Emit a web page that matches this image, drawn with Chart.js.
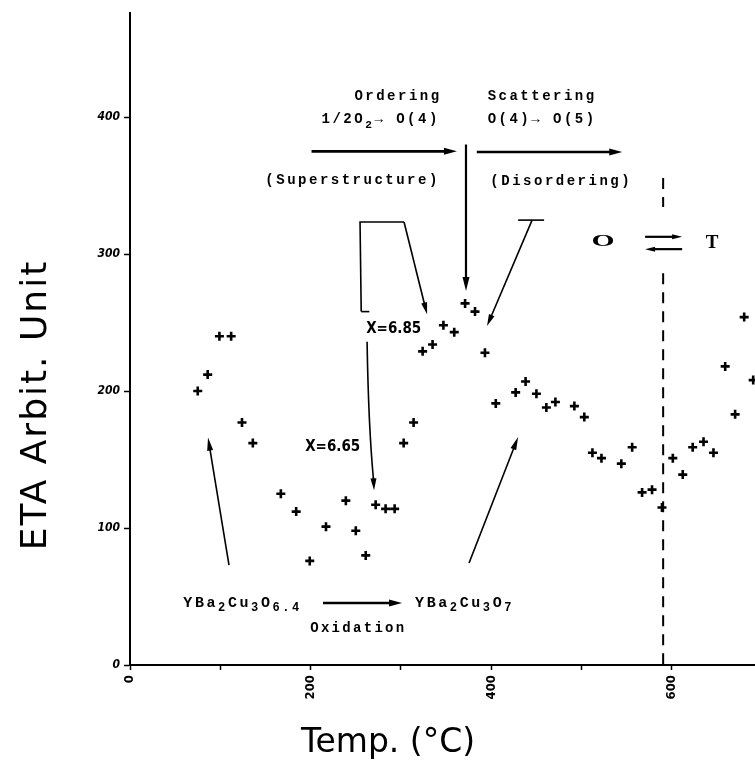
<!DOCTYPE html>
<html>
<head>
<meta charset="utf-8">
<script src="https://cdn.jsdelivr.net/npm/chart.js@4.4.1/dist/chart.umd.min.js"></script>
<style>
  html, body { margin: 0; padding: 0; background: #ffffff; }
  canvas { display: block; }
</style>
</head>
<body>
<canvas id="eta" width="755" height="772" style="width:755px;height:772px"></canvas>
<script>
// ETA vs temperature, YBa2Cu3O(7-x) oxidation run

const temps = [75, 86, 99, 112, 124, 136, 167, 184, 199, 217, 239, 250, 261, 272, 283, 293,
  303, 314, 324, 335, 347, 359, 371, 382, 393, 405, 427, 438, 450, 461, 471, 492, 503, 512,
  522, 544, 556, 567, 578, 589, 601, 612, 623, 635, 646, 659, 670, 680, 690];
const eta = [200, 212, 240, 240, 177, 162, 125, 112, 76, 101, 120, 98, 80, 117, 114, 114,
  162, 177, 229, 234, 248, 243, 264, 258, 228, 191, 199, 207, 198, 188, 192, 189, 181, 155,
  151, 147, 159, 126, 128, 115, 151, 139, 159, 163, 155, 218, 183, 254, 208];

const xTickValues = [0, 100, 200, 300, 400, 500, 600];
const xTickLabels = [0, 200, 400, 600];
const yTickValues = [0, 100, 200, 300, 400];

const MONO = '"Liberation Mono", "DejaVu Sans Mono", monospace';
const NARROW = '"Liberation Sans Narrow", "DejaVu Sans Condensed", sans-serif';

function arrow(ctx, x1, y1, x2, y2, lw, headLen, headW) {
  const a = Math.atan2(y2 - y1, x2 - x1);
  ctx.lineWidth = lw;
  ctx.beginPath();
  ctx.moveTo(x1, y1);
  ctx.lineTo(x2 - Math.cos(a) * headLen * 0.8, y2 - Math.sin(a) * headLen * 0.8);
  ctx.stroke();
  ctx.beginPath();
  ctx.moveTo(x2, y2);
  ctx.lineTo(x2 - Math.cos(a) * headLen + Math.sin(a) * headW / 2, y2 - Math.sin(a) * headLen - Math.cos(a) * headW / 2);
  ctx.lineTo(x2 - Math.cos(a) * headLen - Math.sin(a) * headW / 2, y2 - Math.sin(a) * headLen + Math.cos(a) * headW / 2);
  ctx.closePath();
  ctx.fill();
}

// text runs with subscripts: [[text, isSub], ...]
function richText(ctx, parts, x, y, align, size, family, spacing, weight) {
  const w8 = weight || 'bold';
  ctx.letterSpacing = spacing + 'px';
  let w = 0;
  parts.forEach(([t, sub]) => {
    ctx.font = w8 + ' ' + (sub ? size * 0.8 : size) + 'px ' + family;
    w += ctx.measureText(t).width;
  });
  let cx = align === 'right' ? x - w : align === 'center' ? x - w / 2 : x;
  ctx.textAlign = 'left';
  parts.forEach(([t, sub]) => {
    ctx.font = w8 + ' ' + (sub ? size * 0.8 : size) + 'px ' + family;
    ctx.fillText(t, cx, sub ? y + size * 0.35 : y);
    cx += ctx.measureText(t).width;
  });
  ctx.letterSpacing = '0px';
}

const annotations = {
  id: 'annotations',
  afterDraw(chart) {
    const ctx = chart.ctx;
    const xs = chart.scales.x, ys = chart.scales.y;
    const X = v => xs.getPixelForValue(v);
    const Y = v => ys.getPixelForValue(v);
    ctx.save();
    ctx.fillStyle = '#000';
    ctx.strokeStyle = '#000';
    ctx.textBaseline = 'middle';

    // axis titles
    ctx.textAlign = 'center';
    ctx.save();
    ctx.font = '36px "DejaVu Sans", sans-serif';
    ctx.letterSpacing = '2px';
    ctx.translate(37, 405);
    ctx.rotate(-Math.PI / 2);
    ctx.fillText('ETA Arbit. Unit', 0, 0);
    ctx.restore();
    ctx.font = '33px "DejaVu Sans", sans-serif';
    ctx.fillText('Temp. (\u00B0C)', 388, 743);

    // upper headings
    richText(ctx, [['Ordering', 0]], X(345), Y(415), 'right', 14, MONO, 2.5);
    richText(ctx, [['1/2O', 0], ['2', 1], ['\u2192 O(4)', 0]], X(343), Y(398), 'right', 14, MONO, 2.5);
    richText(ctx, [['(Superstructure)', 0]], X(343), Y(354), 'right', 14, MONO, 2.5);
    richText(ctx, [['Scattering', 0]], X(396), Y(415), 'left', 14, MONO, 2.5);
    richText(ctx, [['O(4)\u2192 O(5)', 0]], X(396), Y(398), 'left', 14, MONO, 2.5);
    richText(ctx, [['(Disordering)', 0]], X(399), Y(353), 'left', 14, MONO, 2.5);
    arrow(ctx, X(201), Y(375), X(362), Y(375), 2.6, 13, 7);
    arrow(ctx, X(384), Y(374.5), X(545), Y(374.5), 2.6, 13, 7);
    arrow(ctx, X(372), Y(380), X(372), Y(273), 2.2, 14, 7);

    // bracket pointing at the X=6.85 region
    ctx.lineWidth = 1.6;
    ctx.beginPath();
    ctx.moveTo(X(256), Y(258));
    ctx.lineTo(X(254.7), Y(323.4));
    ctx.lineTo(X(303.4), Y(323.4));
    ctx.stroke();
    ctx.beginPath();
    ctx.moveTo(X(256), Y(258));
    ctx.lineTo(X(265), Y(258));
    ctx.stroke();
    arrow(ctx, X(303.4), Y(323.4), X(328.9), Y(256), 1.6, 12, 6);
    ctx.beginPath();
    ctx.moveTo(X(429.7), Y(324.8));
    ctx.lineTo(X(458.5), Y(324.8));
    ctx.stroke();
    arrow(ctx, X(445.2), Y(324.8), X(395.3), Y(247.4), 1.6, 12, 6);

    // x labels
    ctx.font = 'bold 15px ' + NARROW;
    ctx.textAlign = 'left';
    ctx.fillText('X=6.85', X(261.5), Y(245));
    ctx.fillText('X=6.65', X(194), Y(159));
    ctx.lineWidth = 1.6;
    ctx.beginPath();
    ctx.moveTo(X(262.5), Y(236));
    ctx.quadraticCurveTo(X(264), Y(175), X(269.5), Y(136));
    ctx.stroke();
    arrow(ctx, X(269.5), Y(137), X(270.2), Y(127.5), 1.6, 12, 6);

    // lower arrows
    arrow(ctx, X(109.6), Y(73), X(86.4), Y(166), 1.6, 13, 6);
    arrow(ctx, X(375.4), Y(74.5), X(429.7), Y(166.4), 1.6, 13, 6);

    // oxidation
    richText(ctx, [['YBa', 0], ['2', 1], ['Cu', 0], ['3', 1], ['O', 0], ['6.4', 1]], X(59), Y(45.3), 'left', 15, MONO, 2.6, '600');
    arrow(ctx, X(213.7), Y(45.3), X(301.2), Y(45.3), 2.4, 13, 7);
    richText(ctx, [['YBa', 0], ['2', 1], ['Cu', 0], ['3', 1], ['O', 0], ['7', 1]], X(315.6), Y(45.3), 'left', 15, MONO, 2.6, '600');
    richText(ctx, [['Oxidation', 0]], X(199.5), Y(27), 'left', 14, MONO, 2.3);

    // O <-> T transition
    ctx.font = 'bold 22px "Liberation Serif", serif';
    ctx.textAlign = 'center';
    ctx.save();
    ctx.translate(X(523.8), Y(308.8));
    ctx.scale(1.35, 0.75);
    ctx.fillText('O', 0, 0);
    ctx.restore();
    ctx.font = 'bold 19px "Liberation Serif", serif';
    ctx.fillText('T', X(644.5), Y(308));
    arrow(ctx, X(570.3), Y(312.6), X(611.3), Y(312.6), 2.2, 10, 5);
    arrow(ctx, X(611.3), Y(303.6), X(570.3), Y(303.6), 2.2, 10, 5);

    ctx.lineWidth = 2;
    ctx.setLineDash([11, 8]);
    ctx.beginPath();
    ctx.moveTo(X(590.3), Y(355.5));
    ctx.lineTo(X(590.3), Y(334.3));
    ctx.moveTo(X(590.3), Y(286));
    ctx.lineTo(X(590.3), Y(0));
    ctx.stroke();
    ctx.restore();
  }
};

new Chart(document.getElementById('eta'), {
  type: 'scatter',
  data: {
    datasets: [{
      data: temps.map((t, i) => ({ x: t, y: eta[i] })),
      pointStyle: 'cross',
      pointRadius: 4.5,
      borderWidth: 2.6,
      borderColor: '#000',
      backgroundColor: '#000',
      clip: false
    }]
  },
  options: {
    responsive: false,
    animation: false,
    layout: { autoPadding: false, padding: { top: 13, right: 0, left: 0, bottom: 0 } },
    plugins: { legend: { display: false }, tooltip: { enabled: false } },
    scales: {
      x: {
        type: 'linear',
        min: 0,
        max: 692,
        afterBuildTicks: (s) => { s.ticks = xTickValues.map(v => ({ value: v })); },
        afterFit: (s) => { s.height = 107; },
        border: { color: '#000', width: 2 },
        grid: { drawOnChartArea: false, drawTicks: true, tickLength: 5, tickColor: '#000', tickWidth: 1.5 },
        ticks: {
          minRotation: 90,
          maxRotation: 90,
          padding: 5,
          color: '#000',
          font: { family: NARROW, size: 13, weight: 'bold' },
          callback: (v) => xTickLabels.includes(v) ? String(v) : ''
        }
      },
      y: {
        type: 'linear',
        min: 0,
        max: 476,
        afterBuildTicks: (s) => { s.ticks = yTickValues.map(v => ({ value: v })); },
        afterFit: (s) => { s.width = 130; },
        border: { color: '#000', width: 2 },
        grid: { drawOnChartArea: false, drawTicks: true, tickLength: 6, tickColor: '#000', tickWidth: 1.5 },
        ticks: {
          padding: 4,
          color: '#000',
          font: { family: NARROW, size: 12, weight: 'bold', style: 'italic' },
          callback: (v) => String(v)
        }
      }
    }
  },
  plugins: [annotations]
});
</script>
</body>
</html>
